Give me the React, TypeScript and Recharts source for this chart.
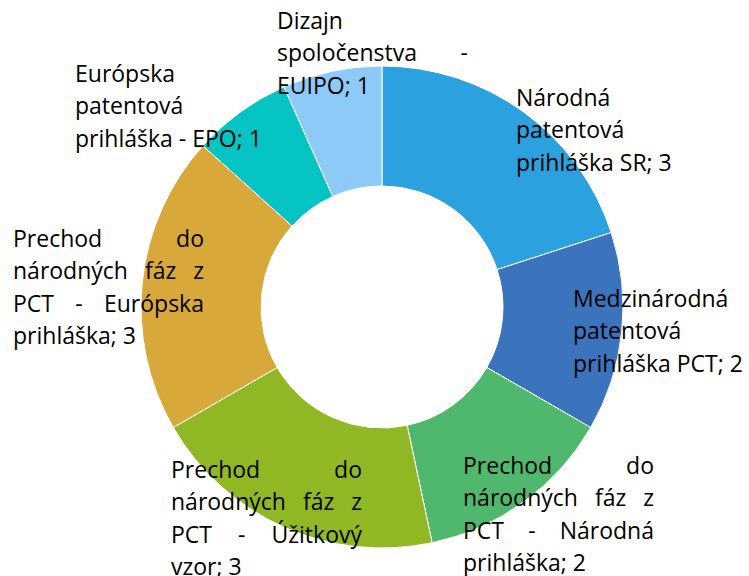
import React from 'react';
import { PieChart, Pie, Cell } from 'recharts';

const categories: string[] = [
  'Národná patentová prihláška SR',
  'Medzinárodná patentová prihláška PCT',
  'Prechod do národných fáz z PCT - Národná prihláška',
  'Prechod do národných fáz z PCT - Úžitkový vzor',
  'Prechod do národných fáz z PCT - Európska prihláška',
  'Európska patentová prihláška - EPO',
  'Dizajn spoločenstva - EUIPO',
];
const values: number[] = [3, 2, 2, 3, 3, 1, 1];
const colors: string[] = ['#2BA1E0', '#3B74BD', '#50B86C', '#90B824', '#D9A83A', '#06C4C4', '#8DCAF8'];

// words per wrapped line of each data label
const lineWordCounts: number[][] = [
  [1, 1, 3],
  [1, 1, 3],
  [2, 3, 3, 2],
  [2, 3, 3, 2],
  [2, 3, 3, 2],
  [1, 1, 4],
  [1, 2, 2],
];
// label block placement relative to pie centre (left x, first baseline y)
const labelOffsets: [number, number][] = [
  [134, -201],
  [191, 0],
  [81, 167],
  [-211, 171],
  [-369, -60],
  [-307, -225],
  [-105, -278],
];

const FONT_SIZE = 23;
const FONT_FAMILY = '"Open Sans", sans-serif';
const LABEL_WIDTH = 191;
const LINE_HEIGHT = 32.3;

const data = categories.map((name, i) => ({ name, value: values[i] }));

let ctx: CanvasRenderingContext2D | null = null;
function measure(s: string): number {
  if (!ctx && typeof document !== 'undefined') {
    ctx = document.createElement('canvas').getContext('2d');
  }
  if (!ctx) return s.length * FONT_SIZE * 0.55;
  ctx.font = `${FONT_SIZE}px ${FONT_FAMILY}`;
  return ctx.measureText(s).width;
}

const renderLabel = (props: any) => {
  const { cx, cy, index } = props;
  const text = `${categories[index]}; ${values[index]}`;
  const words = text.split(' ');
  const counts = lineWordCounts[index];
  const [ox, oy] = labelOffsets[index];
  const x0 = cx + ox;
  const y0 = cy + oy;
  const lines: string[][] = [];
  let p = 0;
  counts.forEach((c) => {
    lines.push(words.slice(p, p + c));
    p += c;
  });
  const elems: React.ReactNode[] = [];
  lines.forEach((lw, li) => {
    const y = y0 + li * LINE_HEIGHT;
    const isLast = li === lines.length - 1;
    if (isLast || lw.length === 1) {
      elems.push(
        <text key={`${li}`} x={x0} y={y} fill="#000" fontSize={FONT_SIZE} fontFamily={FONT_FAMILY} textAnchor="start">
          {lw.join(' ')}
        </text>
      );
    } else {
      const widths = lw.map(measure);
      const total = widths.reduce((a, b) => a + b, 0);
      const gap = (LABEL_WIDTH - total) / (lw.length - 1);
      let x = x0;
      lw.forEach((w, wi) => {
        elems.push(
          <text key={`${li}-${wi}`} x={x} y={y} fill="#000" fontSize={FONT_SIZE} fontFamily={FONT_FAMILY} textAnchor="start">
            {w}
          </text>
        );
        x += widths[wi] + gap;
      });
    }
  });
  return <g key={`label-${index}`}>{elems}</g>;
};

export default function App() {
  return (
    <div style={{ position: 'absolute', left: 0, top: 0, width: 749, height: 576, background: '#fff' }}>
      <PieChart width={749} height={576} margin={{ top: 0, right: 0, bottom: 0, left: 0 }}>
        <Pie
          data={data}
          dataKey="value"
          nameKey="name"
          cx={382}
          cy={307}
          innerRadius={121}
          outerRadius={241}
          startAngle={90}
          endAngle={-270}
          stroke="#ffffff"
          strokeWidth={1}
          label={renderLabel}
          labelLine={false}
          isAnimationActive={false}
        >
          {data.map((d, i) => (
            <Cell key={d.name} fill={colors[i]} />
          ))}
        </Pie>
      </PieChart>
    </div>
  );
}
